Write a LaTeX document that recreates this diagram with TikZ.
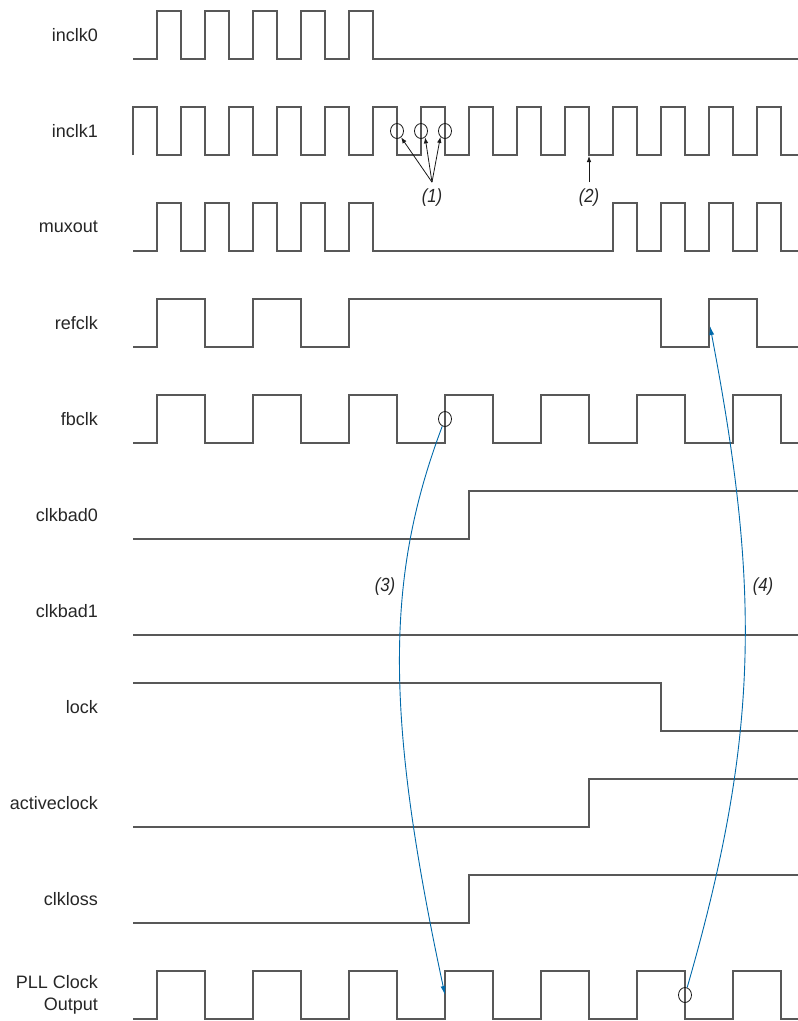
\documentclass[tikz,border=0pt]{standalone}
\usepackage{fontspec}
\setmainfont{Liberation Sans}
\newfontfamily\notefont[FakeStretch=0.88]{Liberation Sans}
\definecolor{wavegray}{RGB}{88,88,88}
\definecolor{pllblue}{RGB}{0,105,170}
\usetikzlibrary{arrows.meta,shapes.geometric}

\begin{document}
\begin{tikzpicture}[x=1pt, y=-1pt,
    lbl/.style={anchor=east, inner sep=0pt, align=right,
      font=\fontsize{18}{21.6}\selectfont, text=black!85},
    note/.style={inner sep=0pt, font=\notefont\itshape\fontsize{19}{21}\selectfont, text=black!85},
    wave/.style={draw=wavegray, line width=1.7pt},
    ring/.style={ellipse, draw=black!90, line width=0.8pt, minimum width=13pt,
      minimum height=15pt, inner sep=0pt},
    notearr/.style={-{Latex[length=6pt, width=4.5pt]}, line width=0.8pt, black!90},
    fbarrow/.style={-{Latex[length=9pt, width=5pt]}, pllblue, line width=0.9pt}
  ]
    \useasboundingbox (0,0) rectangle (798,1021);
    % Signal names
    \node[lbl] (lab0) at (98,35) {inclk0};
    \node[lbl] (lab1) at (98,131) {inclk1};
    \node[lbl] (lab2) at (98,227) {muxout};
    \node[lbl] (lab3) at (98,323) {refclk};
    \node[lbl] (lab4) at (98,419) {fbclk};
    \node[lbl] (lab5) at (98,515) {clkbad0};
    \node[lbl] (lab6) at (98,611) {clkbad1};
    \node[lbl] (lab7) at (98,707) {lock};
    \node[lbl] (lab8) at (98,803) {activeclock};
    \node[lbl] (lab9) at (98,899) {clkloss};
    \node[lbl] (lab10) at (98,995) {PLL Clock\\Output};
    % Input clocks and mux output
    \draw[wave] (133,59) \foreach \k in {0,...,4} {-| (157+48*\k,11) -| (181+48*\k,59)} -- (798,59);
    \draw[wave] (133,155) -- (133,107)
      \foreach \k in {0,...,12} {-| (157+48*\k,155) -| (181+48*\k,107)} -| (781,155) -- (798,155);
    \draw[wave] (133,251) \foreach \k in {0,...,4} {-| (157+48*\k,203) -| (181+48*\k,251)}
      \foreach \k in {0,...,3} {-| (613+48*\k,203) -| (637+48*\k,251)} -- (798,251);
    % Reference and feedback clocks
    \draw[wave] (133,347) -| (157,299) -| (205,347) -| (253,299) -| (301,347) -| (349,299)
      -| (661,347) -| (709,299) -| (757,347) -- (798,347);
    \draw[wave] (133,443) \foreach \k in {0,...,6} {-| (157+96*\k,395) -| (205+96*\k,443)} -- (798,443);
    % Status signals
    \draw[wave] (133,539) -| (469,491) -- (798,491);
    \draw[wave] (133,635) -- (798,635);
    \draw[wave] (133,683) -| (661,731) -- (798,731);
    \draw[wave] (133,827) -| (589,779) -- (798,779);
    \draw[wave] (133,923) -| (469,875) -- (798,875);
    % PLL output
    \draw[wave] (133,1019) \foreach \k in {0,...,6} {-| (157+96*\k,971) -| (205+96*\k,1019)} -- (798,1019);
    % Marked edges
    \node[ring] (ring1) at (397,131) {};
    \node[ring] (ring2) at (421,131) {};
    \node[ring] (ring3) at (445,131) {};
    \node[ring] (ring4) at (445,419) {};
    \node[ring] (ring5) at (685,995) {};
    \coordinate (edge2) at (589,156);
    \coordinate (pllrise) at (445,995);
    \coordinate (refrise) at (710,326);
    % Notes
    \node[note, outer ysep=7pt] (n1) at (432,198) {(1)};
    \node[note, outer ysep=7pt] (n2) at (589,198) {(2)};
    \node[note] (n3) at (385,587) {(3)};
    \node[note] (n4) at (763,587) {(4)};
    \draw[notearr] (n1.north) -- (ring1.-57);
    \draw[notearr] (n1.north) -- (ring2.-57);
    \draw[notearr] (n1.north) -- (ring3.-128);
    \draw[notearr] (n2.north) -- (edge2);
    % Feedback paths
    \draw[fbarrow] (ring4) .. controls (385,578) and (385,715) .. (pllrise);
    \draw[fbarrow] (ring5) .. controls (760,735) and (760,588) .. (refrise);
\end{tikzpicture}
\end{document}
